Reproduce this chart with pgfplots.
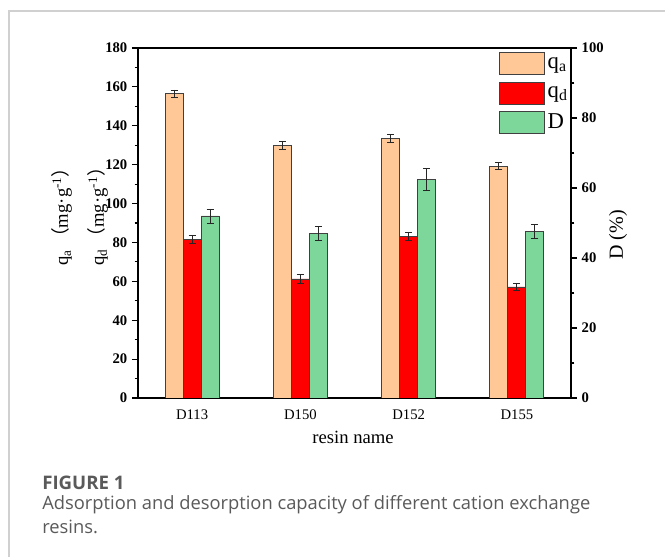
\documentclass[border=0pt]{standalone}
\usepackage{pgfplots}
\pgfplotsset{compat=1.18}
\usepackage{pgfplotstable}
\usepackage{fontspec}
\setmainfont{Liberation Serif}
\newfontfamily\capfont{Open Sans}
\newfontfamily\cjk{Noto Sans CJK SC}
\definecolor{qacol}{HTML}{FFC896}
\definecolor{qdcol}{HTML}{FF0000}
\definecolor{dcol}{HTML}{7DD69A}
\definecolor{edgecol}{HTML}{404040}
\definecolor{framecol}{HTML}{D0D0D0}
\definecolor{capcol}{HTML}{5A5A5A}

% x positions of the three bars of each group (group centre -/+ one bar width)
\pgfplotstableread{
x xa xd xD qa qae qd qde D De
0 -0.1663 0 0.1663 156.4 2.0 81.6 2.0 52.0 2.0
1 0.8337 1 1.1663 130.1 2.1 61.2 2.3 46.9 2.0
2 1.8337 2 2.1663 133.6 2.0 83.3 2.1 62.4 3.1
3 2.8337 3 3.1663 119.3 1.9 57.1 2.0 47.7 2.0
}\data

\pgfplotsset{
  common/.style={
    at={(103.5pt,119.25pt)}, anchor=south west,
    scale only axis, width=324.75pt, height=262.5pt,
    xmin=-0.5, xmax=3.5, ymin=0,
    tick align=outside,
    major tick length=4.5pt, minor tick length=2.5pt,
    axis line style={line width=0.9pt, black},
    tick style={line width=0.8pt, black},
    minor y tick num=1,
    /pgf/number format/assume math mode=true,
    yticklabel style={font=\fontsize{11}{12}\selectfont\bfseries},
  },
  bars/.style={ybar, bar width=13.5pt, bar shift=0pt, draw=edgecol, line width=0.6pt,
    error bars/y dir=both, error bars/y explicit,
    error bars/error bar style={line width=0.6pt, black!85},
    error bars/error mark options={line width=0.6pt, black!85, mark size=2.6pt, rotate=90}},
}

\begin{document}
\begin{tikzpicture}
\path[use as bounding box, fill=white] (0,0) rectangle (498.75pt,417.75pt);
\draw[framecol, line width=0.9pt] (498.75pt,409.5pt) -- (6.75pt,409.5pt) -- (6.75pt,0pt);

\begin{axis}[common,
  ymax=180,
  xtick={0,1,2,3}, xticklabels={D113,D150,D152,D155},
  xtick style={draw=none},
  ytick={0,20,...,180},
  ytick pos=left,
  xticklabel style={font=\fontsize{11}{12}\selectfont, yshift=-1pt},
  legend image code/.code={\draw[#1, draw=edgecol, line width=0.6pt] (0pt,-8.25pt) rectangle (33.75pt,8.25pt);},
  legend style={draw=none, fill=none, at={(0.8337,0.9886)}, anchor=north west, inner sep=0pt, row sep=4.9pt, font=\fontsize{17}{18}\selectfont},
  legend cell align=left,
]
\addplot[bars, fill=qacol] table[x=xa, y=qa, y error=qae] {\data};
\addlegendentry{q\textsubscript{a}}
\addplot[bars, fill=qdcol] table[x=xd, y=qd, y error=qde] {\data};
\addlegendentry{q\textsubscript{d}}
\addlegendimage{fill=dcol}
\addlegendentry{D}
\end{axis}

\begin{axis}[common,
  ymax=100,
  hide x axis,
  axis y line*=right,
  ytick={0,20,...,100},
]
\addplot[bars, fill=dcol] table[x=xD, y=D, y error=De] {\data};
\end{axis}

\node[rotate=90, font=\fontsize{14}{16}\selectfont] at (46.5pt,258.75pt) {q\textsubscript{a}\,{\cjk（}mg·g\textsuperscript{-1}{\cjk）}};
\node[rotate=90, font=\fontsize{14}{16}\selectfont] at (73.5pt,258.75pt) {q\textsubscript{d}\,{\cjk（}mg·g\textsuperscript{-1}{\cjk）}};
\node[rotate=90, font=\fontsize{15}{17}\selectfont] at (463.5pt,241.5pt) {D (\%)};
\node[font=\fontsize{14}{16}\selectfont] at (264.75pt,90pt) {resin name};

\node[anchor=base west, font=\capfont\bfseries\fontsize{14}{16}\selectfont, text=capcol, inner sep=0pt] at (31.5pt,50.25pt) {FIGURE 1};
\node[anchor=base west, font=\capfont\fontsize{13.75}{16}\selectfont, text=capcol, inner sep=0pt] at (31.5pt,35.25pt) {Adsorption and desorption capacity of different cation exchange};
\node[anchor=base west, font=\capfont\fontsize{13.75}{16}\selectfont, text=capcol, inner sep=0pt] at (31.5pt,17.5pt) {resins.};
\end{tikzpicture}
\end{document}
